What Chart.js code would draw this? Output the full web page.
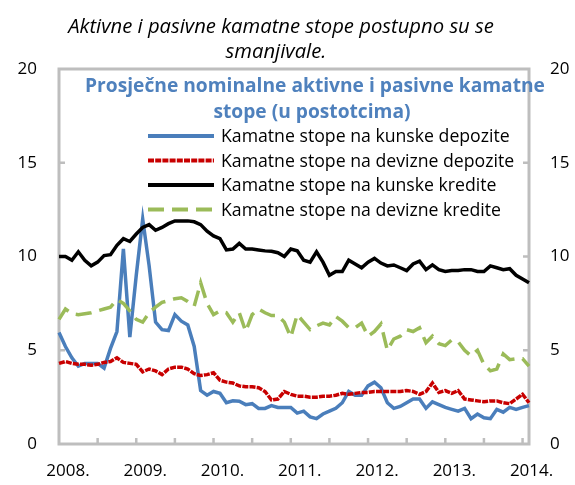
<!DOCTYPE html>
<html>
<head>
<meta charset="utf-8">
<script src="https://cdn.jsdelivr.net/npm/chart.js@4.4.1/dist/chart.umd.min.js"></script>
<style>
html,body{margin:0;padding:0;background:#ffffff;}
#wrap{width:575px;height:485px;position:relative;}
</style>
</head>
<body>
<div id="wrap"><canvas id="c" width="575" height="485"></canvas></div>
<script>
// ---------- DATA ----------
const titleLines = ['Aktivne i pasivne kamatne stope postupno su se', 'smanjivale.'];
const innerTitleLines = ['Prosječne nominalne aktivne i pasivne kamatne', 'stope (u postotcima)'];
const seriesNames = [
  'Kamatne stope na kunske depozite',
  'Kamatne stope na devizne depozite',
  'Kamatne stope na kunske kredite',
  'Kamatne stope na devizne kredite'
];
const yearLabels = ['2008.', '2009.', '2010.', '2011.', '2012.', '2013.', '2014.'];
const yTickValues = [0, 5, 10, 15, 20];
const months = [
  '2008-01','2008-02','2008-03','2008-04','2008-05','2008-06','2008-07','2008-08','2008-09','2008-10','2008-11','2008-12',
  '2009-01','2009-02','2009-03','2009-04','2009-05','2009-06','2009-07','2009-08','2009-09','2009-10','2009-11','2009-12',
  '2010-01','2010-02','2010-03','2010-04','2010-05','2010-06','2010-07','2010-08','2010-09','2010-10','2010-11','2010-12',
  '2011-01','2011-02','2011-03','2011-04','2011-05','2011-06','2011-07','2011-08','2011-09','2011-10','2011-11','2011-12',
  '2012-01','2012-02','2012-03','2012-04','2012-05','2012-06','2012-07','2012-08','2012-09','2012-10','2012-11','2012-12',
  '2013-01','2013-02','2013-03','2013-04','2013-05','2013-06','2013-07','2013-08','2013-09','2013-10','2013-11','2013-12',
  '2014-01','2014-02'
];
const kunskeDepozite = [
  5.95,5.2,4.6,4.15,4.3,4.3,4.3,4.05,5.1,6.0,
  10.4,5.7,9.0,12.0,9.5,6.5,6.1,6.05,6.9,6.55,
  6.35,5.2,2.85,2.6,2.8,2.7,2.2,2.3,2.28,2.1,
  2.15,1.9,1.9,2.05,1.95,1.95,1.95,1.65,1.75,1.45,
  1.35,1.6,1.75,1.9,2.2,2.8,2.6,2.6,3.1,3.3,
  3.0,2.2,1.9,2.0,2.2,2.4,2.4,1.9,2.25,2.1,
  1.95,1.85,1.75,1.9,1.35,1.6,1.4,1.35,1.85,1.7,
  1.95,1.85,1.95,2.05
];
const devizneDepozite = [
  4.3,4.4,4.3,4.25,4.25,4.2,4.25,4.35,4.4,4.6,
  4.35,4.3,4.25,3.85,4.0,3.9,3.7,4.0,4.1,4.1,
  4.0,3.75,3.65,3.7,3.8,3.4,3.3,3.25,3.1,3.05,
  3.05,3.0,2.8,2.35,2.4,2.8,2.65,2.55,2.55,2.5,
  2.5,2.55,2.55,2.6,2.7,2.65,2.7,2.75,2.75,2.8,
  2.8,2.8,2.8,2.8,2.85,2.8,2.65,2.8,3.25,2.75,
  2.85,2.7,2.85,2.4,2.35,2.3,2.25,2.3,2.3,2.2,
  2.15,2.4,2.65,2.2
];
const kunskeKredite = [
  10.0,10.0,9.8,10.25,9.8,9.5,9.7,10.05,10.1,10.6,
  10.95,10.8,11.2,11.55,11.7,11.4,11.55,11.75,11.9,11.9,
  11.9,11.85,11.7,11.35,11.1,10.95,10.35,10.4,10.7,10.4,
  10.4,10.35,10.3,10.28,10.2,10.0,10.4,10.3,9.8,9.7,
  10.25,9.7,9.0,9.2,9.2,9.8,9.6,9.4,9.7,9.9,
  9.65,9.5,9.55,9.4,9.25,9.6,9.75,9.3,9.55,9.3,
  9.2,9.25,9.25,9.3,9.3,9.2,9.2,9.5,9.4,9.3,
  9.35,9.0,8.8,8.6
];
const devizneKredite = [
  6.65,7.2,6.95,6.9,6.95,7.0,7.1,7.2,7.3,7.7,
  7.5,7.1,6.65,6.5,7.0,7.3,7.55,7.65,7.75,7.8,
  7.6,7.35,8.6,7.5,6.9,7.1,7.0,6.5,7.0,6.0,
  6.9,7.2,7.0,6.85,6.85,6.5,5.7,6.9,6.5,6.1,
  6.3,6.45,6.35,6.8,6.55,6.2,6.2,6.45,5.75,6.0,
  6.4,5.0,5.6,5.75,6.1,6.0,6.2,5.4,5.75,5.35,
  5.25,5.55,5.45,5.0,4.7,5.0,4.25,3.9,4.0,4.8,
  4.5,4.55,4.55,4.15
];

// ---------- STYLE ----------
const FONT = "'Open Sans', 'Noto Sans', sans-serif";
const COLORS = ['#4A7EBB', '#C80000', '#000000', '#9BBB59'];
const DASHES = [[], [6, 1.2], [], [16, 8]];
const FRAME_COLOR = '#BEBEBE';
const TITLE_BLUE = '#4F81BD';
const LABEL_OFFSET = 1.4; // year label position (months after January)

const series = [kunskeDepozite, devizneDepozite, kunskeKredite, devizneKredite];

const mctx = document.createElement('canvas').getContext('2d');
function fitSize(text, style, weight, target) {
  mctx.font = `${style} ${weight} 100px ${FONT}`;
  return 100 * target / mctx.measureText(text).width;
}
const titleSize = fitSize(titleLines[0], 'italic', 'normal', 426);
const innerSize = fitSize(innerTitleLines[0], 'normal', 'bold', 460);
const legendSize = fitSize(seriesNames[0], 'normal', 'normal', 289);

const decor = {
  id: 'decor',
  beforeDraw(chart) {
    const {ctx} = chart;
    ctx.save();
    ctx.fillStyle = '#000';
    ctx.textAlign = 'center';
    ctx.textBaseline = 'alphabetic';
    ctx.font = `italic ${titleSize}px ${FONT}`;
    ctx.fillText(titleLines[0], 281, 32.5);
    ctx.fillText(titleLines[1], 276, 57.5);
    ctx.restore();
  },
  beforeDatasetsDraw(chart) {
    const {ctx, chartArea: a, scales} = chart;
    ctx.save();
    ctx.strokeStyle = FRAME_COLOR;
    ctx.lineWidth = 3;
    ctx.strokeRect(a.left, a.top, a.right - a.left, a.bottom - a.top);
    ctx.lineWidth = 2.5;
    ctx.beginPath();
    yTickValues.slice(1, -1).forEach(v => {
      const y = scales.y.getPixelForValue(v);
      ctx.moveTo(a.left, y); ctx.lineTo(a.left + 6, y);
      ctx.moveTo(a.right, y); ctx.lineTo(a.right - 6, y);
    });
    for (let i = 6; i < months.length - 1; i += 6) {
      const x = scales.x.getPixelForValue(i);
      ctx.moveTo(x, a.bottom); ctx.lineTo(x, a.bottom - 6);
    }
    ctx.stroke();
    ctx.restore();
  },
  afterDatasetsDraw(chart) {
    const {ctx} = chart;
    ctx.save();
    ctx.fillStyle = TITLE_BLUE;
    ctx.textAlign = 'center';
    ctx.textBaseline = 'alphabetic';
    ctx.font = `bold ${innerSize}px ${FONT}`;
    ctx.fillText(innerTitleLines[0], 315, 92);
    ctx.fillText(innerTitleLines[1], 312, 118);
    // legend
    ctx.font = `${legendSize}px ${FONT}`;
    ctx.textAlign = 'left';
    ctx.textBaseline = 'middle';
    const rows = [136, 160.5, 185, 209.5];
    chart.data.datasets.forEach((ds, i) => {
      const y = rows[i];
      ctx.strokeStyle = ds.borderColor;
      ctx.lineWidth = 4;
      ctx.setLineDash(ds.borderDash || []);
      ctx.beginPath();
      ctx.moveTo(148, y); ctx.lineTo(214, y);
      ctx.stroke();
      ctx.setLineDash([]);
      ctx.fillStyle = '#000';
      ctx.fillText(ds.label, 221, y + 1);
    });
    ctx.restore();
  }
};

const tickFont = {family: FONT, size: 17};

new Chart(document.getElementById('c'), {
  type: 'line',
  data: {
    labels: months,
    datasets: series.map((d, i) => ({
      label: seriesNames[i],
      data: d,
      borderColor: COLORS[i],
      backgroundColor: COLORS[i],
      borderWidth: 3.5,
      borderDash: DASHES[i],
      pointRadius: 0,
      tension: 0,
      fill: false,
      yAxisID: 'y',
      order: 4 - i
    }))
  },
  options: {
    responsive: false,
    animation: false,
    devicePixelRatio: 1,
    layout: {padding: {top: 69, right: 0, bottom: 0, left: 0}},
    plugins: {
      legend: {display: false},
      tooltip: {enabled: false},
      title: {display: false}
    },
    scales: {
      x: {
        type: 'category',
        offset: false,
        grid: {display: false, drawTicks: false},
        border: {display: false},
        ticks: {
          autoSkip: false, maxRotation: 0, minRotation: 0, padding: 17,
          font: tickFont, color: '#000',
          callback: (v, i) => yearLabels[i]
        },
        afterBuildTicks: s => { s.ticks = yearLabels.map((_, k) => ({value: k * 12 + LABEL_OFFSET})); },
        afterFit: s => { s.height = 41; }
      },
      y: {
        position: 'left', min: 0, max: 20,
        grid: {display: false, drawTicks: false},
        border: {display: false},
        ticks: {stepSize: 5, padding: 22, font: tickFont, color: '#000'},
        afterFit: s => { s.width = 59; }
      },
      y2: {
        position: 'right', min: 0, max: 20,
        grid: {display: false, drawTicks: false},
        border: {display: false},
        ticks: {stepSize: 5, padding: 21, font: tickFont, color: '#000'},
        afterFit: s => { s.width = 46; }
      }
    }
  },
  plugins: [decor]
});
</script>
</body>
</html>
